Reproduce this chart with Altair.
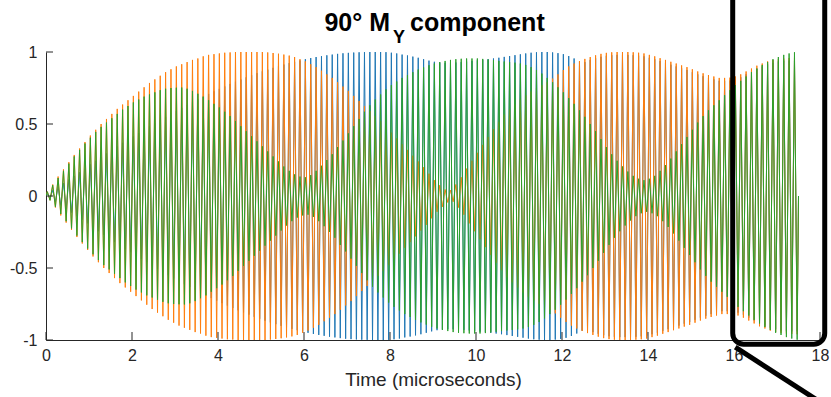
import altair as alt
import pandas as pd

# ---- data -----------------------------------------------------------------
PERIOD = 0.125          # carrier period (µs), from stroke spacing
T_END = 17.5            # last sample (µs)

# peak amplitude of each carrier cycle (8 cycles per µs), one row per µs
orange_amp = [
    0.03, 0.08, 0.135, 0.185, 0.235, 0.285, 0.33, 0.375,
    0.42, 0.46, 0.50, 0.535, 0.57, 0.605, 0.635, 0.665,
    0.695, 0.725, 0.755, 0.785, 0.81, 0.835, 0.86, 0.88,
    0.90, 0.915, 0.93, 0.945, 0.955, 0.97, 0.98, 0.985,
    0.99, 0.995, 0.997, 1.0, 1.0, 1.0, 1.0, 1.0,
    1.0, 0.997, 0.993, 0.988, 0.982, 0.975, 0.965, 0.95,
    0.935, 0.915, 0.895, 0.87, 0.845, 0.82, 0.79, 0.76,
    0.73, 0.695, 0.66, 0.625, 0.59, 0.555, 0.52, 0.48,
    0.44, 0.40, 0.36, 0.32, 0.28, 0.24, 0.20, 0.155,
    0.11, 0.075, 0.045, 0.04, 0.08, 0.13, 0.19, 0.245,
    0.30, 0.355, 0.41, 0.465, 0.515, 0.565, 0.60, 0.635,
    0.67, 0.70, 0.725, 0.75, 0.77, 0.79, 0.815, 0.845,
    0.875, 0.90, 0.92, 0.937, 0.952, 0.965, 0.977, 0.987,
    0.994, 0.998, 1.0, 1.0, 1.0, 0.998, 0.995, 0.99,
    0.98, 0.97, 0.957, 0.945, 0.932, 0.92, 0.907, 0.895,
    0.88, 0.865, 0.852, 0.84, 0.83, 0.82, 0.82, 0.822,
    0.83, 0.845, 0.865, 0.885, 0.905, 0.92, 0.935, 0.945,
    0.95, 0.955, 0.958, 0.96,
]
green_amp = [
    0.03, 0.075, 0.125, 0.175, 0.225, 0.275, 0.32, 0.365,
    0.405, 0.445, 0.48, 0.51, 0.54, 0.57, 0.60, 0.625,
    0.65, 0.67, 0.69, 0.705, 0.72, 0.735, 0.745, 0.75,
    0.752, 0.753, 0.745, 0.73, 0.71, 0.69, 0.665, 0.64,
    0.615, 0.585, 0.555, 0.52, 0.485, 0.45, 0.415, 0.38,
    0.345, 0.31, 0.275, 0.24, 0.205, 0.175, 0.15, 0.135,
    0.13, 0.145, 0.175, 0.21, 0.25, 0.29, 0.34, 0.385,
    0.435, 0.485, 0.535, 0.585, 0.63, 0.67, 0.705, 0.74,
    0.77, 0.795, 0.82, 0.84, 0.86, 0.878, 0.893, 0.908,
    0.92, 0.93, 0.938, 0.945, 0.95, 0.953, 0.955, 0.955,
    0.955, 0.952, 0.948, 0.943, 0.938, 0.934, 0.93, 0.926,
    0.92, 0.91, 0.895, 0.875, 0.85, 0.82, 0.79, 0.755,
    0.72, 0.68, 0.64, 0.595, 0.55, 0.50, 0.45, 0.395,
    0.34, 0.29, 0.245, 0.205, 0.17, 0.14, 0.12, 0.11,
    0.12, 0.14, 0.175, 0.215, 0.26, 0.31, 0.36, 0.41,
    0.46, 0.51, 0.555, 0.595, 0.63, 0.665, 0.70, 0.735,
    0.77, 0.80, 0.83, 0.86, 0.885, 0.91, 0.93, 0.95,
    0.965, 0.98, 0.99, 0.998,
]
blue_amp = [
    0.015, 0.04, 0.065, 0.09, 0.115, 0.14, 0.165, 0.19,
    0.22, 0.245, 0.27, 0.295, 0.32, 0.345, 0.37, 0.39,
    0.413, 0.437, 0.46, 0.483, 0.505, 0.528, 0.55, 0.572,
    0.592, 0.612, 0.632, 0.652, 0.672, 0.69, 0.709, 0.727,
    0.744, 0.761, 0.778, 0.794, 0.809, 0.824, 0.839, 0.853,
    0.866, 0.878, 0.89, 0.902, 0.913, 0.923, 0.932, 0.941,
    0.95, 0.958, 0.965, 0.971, 0.977, 0.982, 0.987, 0.991,
    0.994, 0.996, 0.998, 0.999, 1.0, 1.0, 1.0, 0.999,
    0.995, 0.99, 0.982, 0.976, 0.968, 0.96, 0.95, 0.94,
    0.932, 0.927, 0.925, 0.925, 0.927, 0.93, 0.934, 0.938,
    0.942, 0.946, 0.95, 0.955, 0.96, 0.966, 0.972, 0.978,
    0.984, 0.99, 0.995, 0.998, 1.0, 1.0, 0.997, 0.992,
    0.985, 0.972, 0.955, 0.935, 0.93, 0.945, 0.957, 0.967,
    0.974, 0.978, 0.98, 0.98, 0.98, 0.978, 0.975, 0.97,
    0.96, 0.95, 0.937, 0.925, 0.912, 0.90, 0.887, 0.875,
    0.86, 0.845, 0.832, 0.82, 0.81, 0.80, 0.80, 0.802,
    0.81, 0.825, 0.845, 0.865, 0.885, 0.90, 0.915, 0.925,
    0.935, 0.94, 0.94, 0.94,
]

x_ticks = [0, 2, 4, 6, 8, 10, 12, 14, 16, 18]
y_ticks = [-1, -0.5, 0, 0.5, 1]
title_parts = ["90° M", "Y", "component"]
x_title = "Time (microseconds)"

# callout box (data coordinates)
callout_box = {"x": [15.97], "x2": [18.11], "y": [-1.03], "y2": [1.6]}
callout_line = {"x": [16.03, 18.0], "y": [-1.05, -1.43]}

COLORS = {"blue": "#1f77b4", "orange": "#ff7f0e", "green": "#2ca02c"}
AXIS = "#262626"
FONT = "Liberation Sans"


def series(amps):
    rows = [{"t": 0.0, "v": 0.0}]
    for k, a in enumerate(amps):
        rows.append({"t": k * PERIOD + PERIOD / 4, "v": a})
        rows.append({"t": k * PERIOD + 3 * PERIOD / 4, "v": -a})
    rows.append({"t": T_END, "v": 0.0})
    return pd.DataFrame(rows)


xscale = alt.Scale(domain=[0, 18], nice=False, zero=False)
yscale = alt.Scale(domain=[-1, 1], nice=False, zero=False)

W, H = 774, 288

x_axis = alt.Axis(values=x_ticks, tickSize=0, labelFontSize=16, labelPadding=7,
                  title=x_title, titleFontSize=19, titleFontWeight="normal",
                  titlePadding=7, labelFont=FONT, titleFont=FONT,
                  labelColor=AXIS, titleColor=AXIS, domainColor=AXIS,
                  grid=False, labelFlush=False)
y_axis = alt.Axis(values=y_ticks, tickSize=0, labelFontSize=16, labelPadding=9,
                  title=None, labelFont=FONT, labelColor=AXIS,
                  domainColor=AXIS, grid=False,
                  labelExpr="toString(datum.value)", labelFlush=False)


def X(field):
    return alt.X(field, scale=xscale, axis=x_axis)


def Y(field):
    return alt.Y(field, scale=yscale, axis=y_axis)


def line_layer(amps, color):
    return alt.Chart(series(amps)).mark_line(
        color=color, strokeWidth=1, clip=True
    ).encode(x=X("t:Q"), y=Y("v:Q"), order="t:Q")


blue = line_layer(blue_amp, COLORS["blue"])
orange = line_layer(orange_amp, COLORS["orange"])
green = line_layer(green_amp, COLORS["green"])

yticks = alt.Chart(pd.DataFrame({"v": y_ticks})).mark_rule(
    color=AXIS, strokeWidth=1).encode(
    y=Y("v:Q"), x=alt.value(0), x2=alt.value(7))
xticks = alt.Chart(pd.DataFrame({"t": x_ticks})).mark_rule(
    color=AXIS, strokeWidth=1).encode(
    x=X("t:Q"), y=alt.value(H), y2=alt.value(H - 8))

box = alt.Chart(pd.DataFrame(callout_box)).mark_rect(
    filled=False, stroke="black", strokeWidth=5, cornerRadius=11).encode(
    x=X("x:Q"), x2="x2:Q", y=Y("y:Q"), y2="y2:Q")
diag = alt.Chart(pd.DataFrame(callout_line)).mark_line(
    color="black", strokeWidth=5).encode(x=X("x:Q"), y=Y("y:Q"))

tdf = pd.DataFrame({"txt": title_parts})
t1 = alt.Chart(tdf).transform_filter(alt.datum.txt == title_parts[0]).mark_text(
    font=FONT, fontSize=25, fontWeight="bold", align="right",
    baseline="alphabetic", color="black").encode(
    text="txt:N", x=alt.value(344), y=alt.value(-21))
t2 = alt.Chart(tdf).transform_filter(alt.datum.txt == title_parts[1]).mark_text(
    font=FONT, fontSize=18, fontWeight="bold", align="left",
    baseline="alphabetic", color="black").encode(
    text="txt:N", x=alt.value(347), y=alt.value(-9))
t3 = alt.Chart(tdf).transform_filter(alt.datum.txt == title_parts[2]).mark_text(
    font=FONT, fontSize=25, fontWeight="bold", align="left",
    baseline="alphabetic", color="black").encode(
    text="txt:N", x=alt.value(364), y=alt.value(-21))

chart = alt.layer(blue, orange, green, yticks, xticks, box, diag, t1, t2, t3).properties(
    width=W, height=H,
    autosize=alt.AutoSizeParams(type="none"),
    padding={"left": 46, "top": 52, "right": 11, "bottom": 57},
    background="white",
).configure_view(stroke=None)

chart.save("out.html", embed_options={"renderer": "svg", "actions": False})
